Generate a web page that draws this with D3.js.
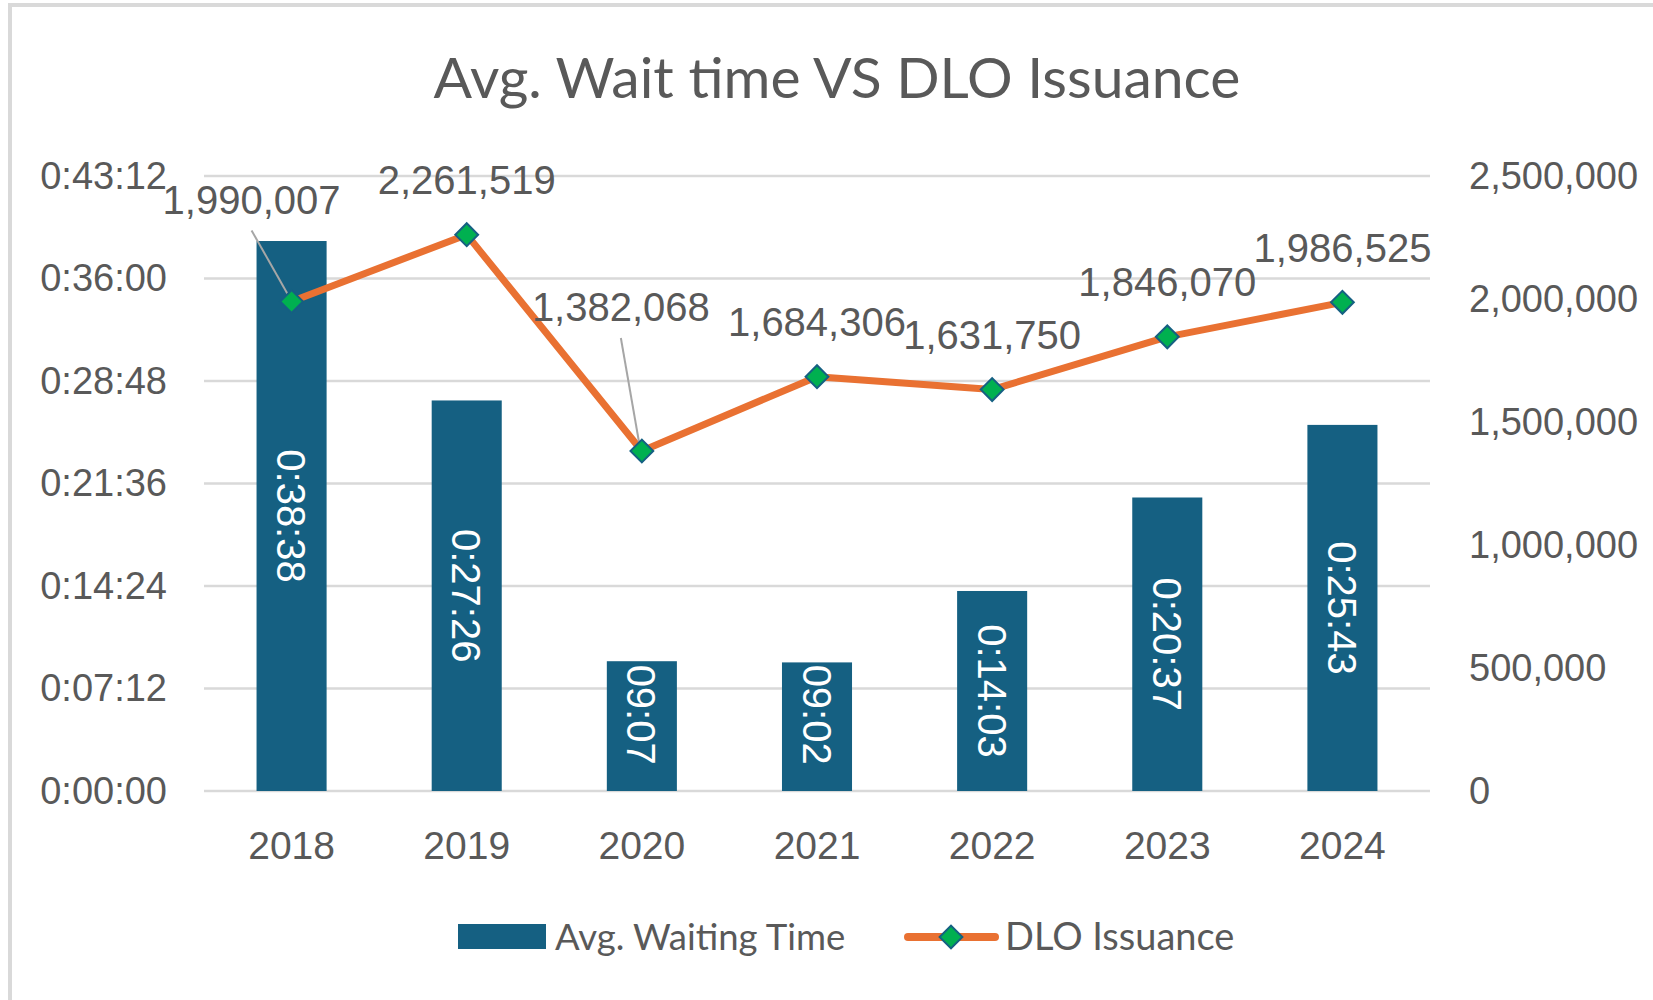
<!DOCTYPE html>
<html>
<head>
<meta charset="utf-8">
<script src="https://cdn.jsdelivr.net/npm/d3@7"></script>
<style>
    body { margin: 0; background: #fff; }
    svg { display: block; }
    .num { font-family: "Liberation Sans", Arial, sans-serif; fill: #595959; }
    .word { font-family: Lato, "Open Sans", sans-serif; fill: #595959; }
</style>
</head>
<body>
<div id="chart"></div>
<script>
// data
let years = ['2018', '2019', '2020', '2021', '2022', '2023', '2024'];
let waitTimes = ['0:38:38', '0:27:26', '0:09:07', '0:09:02', '0:14:03', '0:20:37', '0:25:43'];
let dloIssuance = [1990007, 2261519, 1382068, 1684306, 1631750, 1846070, 1986525];
let leftTicks = ['0:00:00', '0:07:12', '0:14:24', '0:21:36', '0:28:48', '0:36:00', '0:43:12'];
let rightTicks = [0, 500000, 1000000, 1500000, 2000000, 2500000];

let toSec = s => {
    let p = s.split(':').map(Number);
    return p[0] * 3600 + p[1] * 60 + p[2];
};
let toTime = sec => {
    let h = Math.floor(sec / 3600), m = Math.floor(sec % 3600 / 60), s = sec % 60;
    return h + ':' + String(m).padStart(2, '0') + ':' + String(s).padStart(2, '0');
};

let width = 1653, height = 1000;
let plot = {left: 204, right: 1430, top: 176, bottom: 791};

let svg = d3.select('#chart').append('svg')
    .attr('width', width)
    .attr('height', height);

// chart border (runs off the right and bottom of the picture)
svg.append('rect')
    .attr('x', 10).attr('y', 5)
    .attr('width', width + 20).attr('height', height + 20)
    .attr('fill', 'none')
    .attr('stroke', '#D9D9D9')
    .attr('stroke-width', 4);

svg.append('text')
    .classed('word', true)
    .attr('x', 837)
    .attr('y', 98)
    .attr('text-anchor', 'middle')
    .style('font-size', '57px')
    .text('Avg. Wait time VS DLO Issuance');

let x = d3.scaleBand()
    .domain(years)
    .range([plot.left, plot.right])
    .paddingInner(0.6)
    .paddingOuter(0.3);

let yLeft = d3.scaleLinear()
    .domain([0, toSec(leftTicks[leftTicks.length - 1])])
    .range([plot.bottom, plot.top]);

let yRight = d3.scaleLinear()
    .domain([0, rightTicks[rightTicks.length - 1]])
    .range([plot.bottom, plot.top]);

// gridlines
svg.append('g')
    .selectAll('line')
    .data(leftTicks)
    .join('line')
    .attr('x1', plot.left).attr('x2', plot.right)
    .attr('y1', d => yLeft(toSec(d)))
    .attr('y2', d => yLeft(toSec(d)))
    .attr('stroke', '#D9D9D9')
    .attr('stroke-width', 2.5);

// left axis
let leftAxis = svg.append('g')
    .attr('transform', `translate(${plot.left}, 0)`)
    .call(d3.axisLeft(yLeft).tickValues(leftTicks.map(toSec)).tickFormat(toTime).tickSize(0).tickPadding(37));
leftAxis.select('.domain').remove();
leftAxis.selectAll('text')
    .attr('class', 'num')
    .attr('fill', null)
    .style('font-size', '38px');

// right axis
let rightAxis = svg.append('g')
    .attr('transform', `translate(${plot.right}, 0)`)
    .call(d3.axisRight(yRight).tickValues(rightTicks).tickFormat(d3.format(',')).tickSize(0).tickPadding(39));
rightAxis.select('.domain').remove();
rightAxis.selectAll('text')
    .attr('class', 'num')
    .attr('fill', null)
    .style('font-size', '38px');

// category axis
let bottomAxis = svg.append('g')
    .attr('transform', `translate(0, ${plot.bottom})`)
    .call(d3.axisBottom(x).tickSize(0).tickPadding(40));
bottomAxis.select('.domain').remove();
bottomAxis.selectAll('text')
    .attr('class', 'num')
    .attr('fill', null)
    .style('font-size', '39px');

// bars
let bars = svg.append('g')
    .selectAll('g')
    .data(years.map((d, i) => ({year: d, sec: toSec(waitTimes[i])})))
    .join('g');

bars.append('rect')
    .attr('x', d => x(d.year))
    .attr('y', d => yLeft(d.sec))
    .attr('width', x.bandwidth())
    .attr('height', d => plot.bottom - yLeft(d.sec))
    .attr('fill', '#156082');

bars.append('text')
    .attr('class', 'num')
    .style('fill', '#fff')
    .style('font-size', '40px')
    .attr('text-anchor', 'middle')
    .attr('transform', d => {
        let cx = x(d.year) + x.bandwidth() / 2;
        let half = 65;
        let cy = Math.min((yLeft(d.sec) + plot.bottom) / 2, plot.bottom - 28 - half);
        return `translate(${cx}, ${cy}) rotate(90)`;
    })
    .attr('dy', '0.36em')
    .text(d => toTime(d.sec));

// line series
let points = years.map((d, i) => ({year: d, value: dloIssuance[i],
    x: x(d) + x.bandwidth() / 2, y: yRight(dloIssuance[i])}));

svg.append('path')
    .datum(points)
    .attr('d', d3.line().x(d => d.x).y(d => d.y))
    .attr('fill', 'none')
    .attr('stroke', '#E97132')
    .attr('stroke-width', 7)
    .attr('stroke-linejoin', 'round');

// label offsets from the marker (two were dragged off with leader lines)
let labelShift = {'2018': [-40, -102], '2020': [-21, -144]};
let labelPos = d => {
    let s = labelShift[d.year] || [0, -55];
    return [d.x + s[0], d.y + s[1]];
};

svg.append('g')
    .selectAll('line')
    .data(points.filter(d => labelShift[d.year]))
    .join('line')
    .attr('x1', d => labelPos(d)[0])
    .attr('y1', d => labelPos(d)[1] + 31)
    .attr('x2', d => d.x - 2)
    .attr('y2', d => d.y - 4)
    .attr('stroke', '#A6A6A6')
    .attr('stroke-width', 2);

let diamond = d3.symbol().type(d3.symbolSquare).size(260);

svg.append('g')
    .selectAll('path')
    .data(points)
    .join('path')
    .attr('d', diamond)
    .attr('transform', d => `translate(${d.x}, ${d.y}) rotate(45)`)
    .attr('fill', '#00B050')
    .attr('stroke', '#156082')
    .attr('stroke-width', 2);

svg.append('g')
    .selectAll('text')
    .data(points)
    .join('text')
    .attr('class', 'num')
    .style('font-size', '40px')
    .attr('text-anchor', 'middle')
    .attr('x', d => labelPos(d)[0])
    .attr('y', d => labelPos(d)[1])
    .attr('dy', '0.36em')
    .text(d => d3.format(',')(d.value));

// legend
let legend = svg.append('g');
legend.append('rect')
    .attr('x', 458).attr('y', 924)
    .attr('width', 88).attr('height', 25)
    .attr('fill', '#156082');
legend.append('text')
    .attr('class', 'word')
    .attr('x', 555).attr('y', 950)
    .style('font-size', '36.5px')
    .text('Avg. Waiting Time');
legend.append('line')
    .attr('x1', 908).attr('x2', 995)
    .attr('y1', 937).attr('y2', 937)
    .attr('stroke', '#E97132')
    .attr('stroke-width', 8)
    .attr('stroke-linecap', 'round');
legend.append('path')
    .attr('d', diamond)
    .attr('transform', 'translate(951, 937) rotate(45)')
    .attr('fill', '#00B050')
    .attr('stroke', '#156082')
    .attr('stroke-width', 2);
legend.append('text')
    .attr('class', 'word')
    .attr('x', 1005).attr('y', 950)
    .style('font-size', '38px')
    .text('DLO Issuance');
</script>
</body>
</html>
